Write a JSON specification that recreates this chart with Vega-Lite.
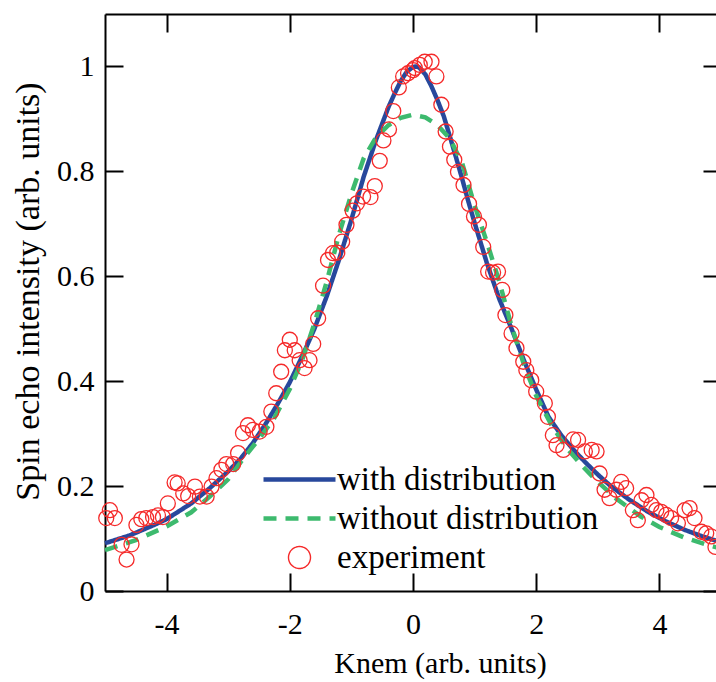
{
  "$schema": "https://vega.github.io/schema/vega-lite/v6.json",
  "width": 616,
  "height": 577,
  "autosize": {"type": "none"},
  "padding": {"left": 105, "top": 14, "right": 0, "bottom": 91},
  "config": {
    "view": {"stroke": null},
    "font": "'Liberation Serif', 'Times New Roman', Times, serif",
    "text": {"font": "'Liberation Serif', 'Times New Roman', Times, serif"},
    "axis": {
      "grid": false,
      "domainColor": "black",
      "domainWidth": 2,
      "tickColor": "black",
      "tickWidth": 2,
      "tickSize": -18,
      "labelFont": "'Liberation Serif', 'Times New Roman', Times, serif",
      "labelFontSize": 30,
      "labelColor": "black",
      "titleFont": "'Liberation Serif', 'Times New Roman', Times, serif",
      "titleFontSize": 30,
      "titleFontWeight": "normal",
      "titleColor": "black"
    },
    "legend": {
      "labelFont": "'Liberation Serif', 'Times New Roman', Times, serif"
    }
  },
  "datasets": {
    "curves": [
      {"series": "with distribution", "k": -5.0, "v": 0.091},
      {"series": "with distribution", "k": -4.6, "v": 0.106},
      {"series": "with distribution", "k": -4.2, "v": 0.126},
      {"series": "with distribution", "k": -4.0, "v": 0.137},
      {"series": "with distribution", "k": -3.6, "v": 0.167},
      {"series": "with distribution", "k": -3.3, "v": 0.196},
      {"series": "with distribution", "k": -3.0, "v": 0.228},
      {"series": "with distribution", "k": -2.8, "v": 0.252},
      {"series": "with distribution", "k": -2.6, "v": 0.282},
      {"series": "with distribution", "k": -2.4, "v": 0.317},
      {"series": "with distribution", "k": -2.2, "v": 0.356},
      {"series": "with distribution", "k": -2.0, "v": 0.398},
      {"series": "with distribution", "k": -1.8, "v": 0.447},
      {"series": "with distribution", "k": -1.6, "v": 0.5},
      {"series": "with distribution", "k": -1.4, "v": 0.562},
      {"series": "with distribution", "k": -1.2, "v": 0.632},
      {"series": "with distribution", "k": -1.0, "v": 0.708},
      {"series": "with distribution", "k": -0.8, "v": 0.79},
      {"series": "with distribution", "k": -0.6, "v": 0.86},
      {"series": "with distribution", "k": -0.4, "v": 0.922},
      {"series": "with distribution", "k": -0.3, "v": 0.948},
      {"series": "with distribution", "k": -0.2, "v": 0.972},
      {"series": "with distribution", "k": -0.1, "v": 0.99},
      {"series": "with distribution", "k": 0.0, "v": 0.999},
      {"series": "with distribution", "k": 0.05, "v": 1.0},
      {"series": "with distribution", "k": 0.1, "v": 0.998},
      {"series": "with distribution", "k": 0.2, "v": 0.985},
      {"series": "with distribution", "k": 0.3, "v": 0.962},
      {"series": "with distribution", "k": 0.4, "v": 0.935},
      {"series": "with distribution", "k": 0.5, "v": 0.905},
      {"series": "with distribution", "k": 0.6, "v": 0.866},
      {"series": "with distribution", "k": 0.7, "v": 0.826},
      {"series": "with distribution", "k": 0.8, "v": 0.785},
      {"series": "with distribution", "k": 0.9, "v": 0.742},
      {"series": "with distribution", "k": 1.0, "v": 0.702},
      {"series": "with distribution", "k": 1.2, "v": 0.625},
      {"series": "with distribution", "k": 1.4, "v": 0.557},
      {"series": "with distribution", "k": 1.6, "v": 0.5},
      {"series": "with distribution", "k": 1.8, "v": 0.44},
      {"series": "with distribution", "k": 2.0, "v": 0.384},
      {"series": "with distribution", "k": 2.2, "v": 0.332},
      {"series": "with distribution", "k": 2.4, "v": 0.298},
      {"series": "with distribution", "k": 2.6, "v": 0.27},
      {"series": "with distribution", "k": 2.8, "v": 0.245},
      {"series": "with distribution", "k": 3.0, "v": 0.222},
      {"series": "with distribution", "k": 3.2, "v": 0.201},
      {"series": "with distribution", "k": 3.5, "v": 0.175},
      {"series": "with distribution", "k": 3.8, "v": 0.152},
      {"series": "with distribution", "k": 4.1, "v": 0.133},
      {"series": "with distribution", "k": 4.4, "v": 0.117},
      {"series": "with distribution", "k": 4.7, "v": 0.104},
      {"series": "with distribution", "k": 5.0, "v": 0.093},
      {"series": "without distribution", "k": -5.0, "v": 0.078},
      {"series": "without distribution", "k": -4.5, "v": 0.097},
      {"series": "without distribution", "k": -4.0, "v": 0.123},
      {"series": "without distribution", "k": -3.6, "v": 0.15},
      {"series": "without distribution", "k": -3.3, "v": 0.18},
      {"series": "without distribution", "k": -3.0, "v": 0.213},
      {"series": "without distribution", "k": -2.75, "v": 0.253},
      {"series": "without distribution", "k": -2.5, "v": 0.29},
      {"series": "without distribution", "k": -2.25, "v": 0.33},
      {"series": "without distribution", "k": -2.0, "v": 0.385},
      {"series": "without distribution", "k": -1.8, "v": 0.44},
      {"series": "without distribution", "k": -1.6, "v": 0.51},
      {"series": "without distribution", "k": -1.4, "v": 0.59},
      {"series": "without distribution", "k": -1.2, "v": 0.68},
      {"series": "without distribution", "k": -1.0, "v": 0.757},
      {"series": "without distribution", "k": -0.8, "v": 0.825},
      {"series": "without distribution", "k": -0.6, "v": 0.865},
      {"series": "without distribution", "k": -0.4, "v": 0.888},
      {"series": "without distribution", "k": -0.2, "v": 0.902},
      {"series": "without distribution", "k": 0.0, "v": 0.908},
      {"series": "without distribution", "k": 0.2, "v": 0.903},
      {"series": "without distribution", "k": 0.4, "v": 0.888},
      {"series": "without distribution", "k": 0.6, "v": 0.862},
      {"series": "without distribution", "k": 0.8, "v": 0.815},
      {"series": "without distribution", "k": 1.0, "v": 0.735},
      {"series": "without distribution", "k": 1.2, "v": 0.665},
      {"series": "without distribution", "k": 1.4, "v": 0.59},
      {"series": "without distribution", "k": 1.6, "v": 0.505},
      {"series": "without distribution", "k": 1.8, "v": 0.432},
      {"series": "without distribution", "k": 2.0, "v": 0.372},
      {"series": "without distribution", "k": 2.25, "v": 0.316},
      {"series": "without distribution", "k": 2.5, "v": 0.272},
      {"series": "without distribution", "k": 2.75, "v": 0.238},
      {"series": "without distribution", "k": 3.0, "v": 0.208},
      {"series": "without distribution", "k": 3.3, "v": 0.176},
      {"series": "without distribution", "k": 3.7, "v": 0.142},
      {"series": "without distribution", "k": 4.0, "v": 0.122},
      {"series": "without distribution", "k": 4.4, "v": 0.102},
      {"series": "without distribution", "k": 4.8, "v": 0.087},
      {"series": "without distribution", "k": 5.0, "v": 0.081}
    ],
    "exp": [
      {"series": "experiment", "k": -4.98, "v": 0.139},
      {"series": "experiment", "k": -4.92, "v": 0.154},
      {"series": "experiment", "k": -4.84, "v": 0.139},
      {"series": "experiment", "k": -4.73, "v": 0.088},
      {"series": "experiment", "k": -4.65, "v": 0.06},
      {"series": "experiment", "k": -4.57, "v": 0.089},
      {"series": "experiment", "k": -4.49, "v": 0.126},
      {"series": "experiment", "k": -4.41, "v": 0.137},
      {"series": "experiment", "k": -4.33, "v": 0.139},
      {"series": "experiment", "k": -4.22, "v": 0.141},
      {"series": "experiment", "k": -4.14, "v": 0.144},
      {"series": "experiment", "k": -4.06, "v": 0.141},
      {"series": "experiment", "k": -3.98, "v": 0.167},
      {"series": "experiment", "k": -3.87, "v": 0.207},
      {"series": "experiment", "k": -3.82, "v": 0.205},
      {"series": "experiment", "k": -3.73, "v": 0.186},
      {"series": "experiment", "k": -3.65, "v": 0.181},
      {"series": "experiment", "k": -3.54, "v": 0.199},
      {"series": "experiment", "k": -3.46, "v": 0.18},
      {"series": "experiment", "k": -3.35, "v": 0.18},
      {"series": "experiment", "k": -3.27, "v": 0.199},
      {"series": "experiment", "k": -3.19, "v": 0.215},
      {"series": "experiment", "k": -3.11, "v": 0.231},
      {"series": "experiment", "k": -3.03, "v": 0.242},
      {"series": "experiment", "k": -2.92, "v": 0.242},
      {"series": "experiment", "k": -2.84, "v": 0.263},
      {"series": "experiment", "k": -2.76, "v": 0.301},
      {"series": "experiment", "k": -2.68, "v": 0.316},
      {"series": "experiment", "k": -2.6, "v": 0.307},
      {"series": "experiment", "k": -2.49, "v": 0.304},
      {"series": "experiment", "k": -2.38, "v": 0.313},
      {"series": "experiment", "k": -2.3, "v": 0.342},
      {"series": "experiment", "k": -2.22, "v": 0.377},
      {"series": "experiment", "k": -2.14, "v": 0.418},
      {"series": "experiment", "k": -2.08, "v": 0.459},
      {"series": "experiment", "k": -2.0, "v": 0.479},
      {"series": "experiment", "k": -1.92, "v": 0.459},
      {"series": "experiment", "k": -1.84, "v": 0.44},
      {"series": "experiment", "k": -1.76, "v": 0.425},
      {"series": "experiment", "k": -1.68, "v": 0.44},
      {"series": "experiment", "k": -1.62, "v": 0.471},
      {"series": "experiment", "k": -1.54, "v": 0.52},
      {"series": "experiment", "k": -1.46, "v": 0.582},
      {"series": "experiment", "k": -1.38, "v": 0.631},
      {"series": "experiment", "k": -1.3, "v": 0.644},
      {"series": "experiment", "k": -1.23, "v": 0.645},
      {"series": "experiment", "k": -1.15, "v": 0.666},
      {"series": "experiment", "k": -1.08, "v": 0.698},
      {"series": "experiment", "k": -0.98, "v": 0.725},
      {"series": "experiment", "k": -0.91, "v": 0.739},
      {"series": "experiment", "k": -0.81, "v": 0.752},
      {"series": "experiment", "k": -0.69, "v": 0.751},
      {"series": "experiment", "k": -0.62, "v": 0.772},
      {"series": "experiment", "k": -0.54, "v": 0.82},
      {"series": "experiment", "k": -0.48, "v": 0.859},
      {"series": "experiment", "k": -0.39, "v": 0.88},
      {"series": "experiment", "k": -0.32, "v": 0.915},
      {"series": "experiment", "k": -0.23, "v": 0.96},
      {"series": "experiment", "k": -0.16, "v": 0.981},
      {"series": "experiment", "k": -0.08, "v": 0.987},
      {"series": "experiment", "k": 0.0, "v": 0.993},
      {"series": "experiment", "k": 0.03, "v": 0.997},
      {"series": "experiment", "k": 0.11, "v": 1.003},
      {"series": "experiment", "k": 0.19, "v": 1.009},
      {"series": "experiment", "k": 0.3, "v": 1.009},
      {"series": "experiment", "k": 0.38, "v": 0.981},
      {"series": "experiment", "k": 0.46, "v": 0.927},
      {"series": "experiment", "k": 0.53, "v": 0.876},
      {"series": "experiment", "k": 0.6, "v": 0.847},
      {"series": "experiment", "k": 0.67, "v": 0.822},
      {"series": "experiment", "k": 0.73, "v": 0.799},
      {"series": "experiment", "k": 0.82, "v": 0.774},
      {"series": "experiment", "k": 0.91, "v": 0.738},
      {"series": "experiment", "k": 0.99, "v": 0.714},
      {"series": "experiment", "k": 1.07, "v": 0.698},
      {"series": "experiment", "k": 1.14, "v": 0.656},
      {"series": "experiment", "k": 1.22, "v": 0.609},
      {"series": "experiment", "k": 1.3, "v": 0.607},
      {"series": "experiment", "k": 1.38, "v": 0.609},
      {"series": "experiment", "k": 1.45, "v": 0.574},
      {"series": "experiment", "k": 1.5, "v": 0.526},
      {"series": "experiment", "k": 1.6, "v": 0.491},
      {"series": "experiment", "k": 1.68, "v": 0.463},
      {"series": "experiment", "k": 1.79, "v": 0.437},
      {"series": "experiment", "k": 1.84, "v": 0.421},
      {"series": "experiment", "k": 1.92, "v": 0.402},
      {"series": "experiment", "k": 2.0, "v": 0.38},
      {"series": "experiment", "k": 2.14, "v": 0.358},
      {"series": "experiment", "k": 2.19, "v": 0.332},
      {"series": "experiment", "k": 2.27, "v": 0.297},
      {"series": "experiment", "k": 2.33, "v": 0.278},
      {"series": "experiment", "k": 2.44, "v": 0.269},
      {"series": "experiment", "k": 2.6, "v": 0.289},
      {"series": "experiment", "k": 2.68, "v": 0.288},
      {"series": "experiment", "k": 2.79, "v": 0.266},
      {"series": "experiment", "k": 2.9, "v": 0.269},
      {"series": "experiment", "k": 2.98, "v": 0.266},
      {"series": "experiment", "k": 3.03, "v": 0.224},
      {"series": "experiment", "k": 3.11, "v": 0.193},
      {"series": "experiment", "k": 3.19, "v": 0.177},
      {"series": "experiment", "k": 3.3, "v": 0.193},
      {"series": "experiment", "k": 3.38, "v": 0.208},
      {"series": "experiment", "k": 3.46, "v": 0.196},
      {"series": "experiment", "k": 3.57, "v": 0.154},
      {"series": "experiment", "k": 3.65, "v": 0.135},
      {"series": "experiment", "k": 3.71, "v": 0.173},
      {"series": "experiment", "k": 3.79, "v": 0.183},
      {"series": "experiment", "k": 3.87, "v": 0.164},
      {"series": "experiment", "k": 3.95, "v": 0.154},
      {"series": "experiment", "k": 4.03, "v": 0.151},
      {"series": "experiment", "k": 4.11, "v": 0.145},
      {"series": "experiment", "k": 4.19, "v": 0.139},
      {"series": "experiment", "k": 4.3, "v": 0.129},
      {"series": "experiment", "k": 4.41, "v": 0.154},
      {"series": "experiment", "k": 4.49, "v": 0.158},
      {"series": "experiment", "k": 4.57, "v": 0.139},
      {"series": "experiment", "k": 4.68, "v": 0.113},
      {"series": "experiment", "k": 4.76, "v": 0.11},
      {"series": "experiment", "k": 4.84, "v": 0.104},
      {"series": "experiment", "k": 4.91, "v": 0.084}
    ]
  },
  "layer": [
    {
      "data": {"name": "curves"},
      "mark": {"type": "line", "strokeWidth": 4.5},
      "encoding": {
        "x": {
          "field": "k", "type": "quantitative",
          "scale": {"domain": [-5, 5], "nice": false, "zero": false},
          "axis": {"orient": "bottom", "values": [-4, -2, 0, 2, 4], "labelExpr": "'' + datum.value", "labelPadding": 36, "title": "Knem (arb. units)", "titleX": 335, "titleY": 81, "titleBaseline": "alphabetic"}
        },
        "y": {
          "field": "v", "type": "quantitative",
          "scale": {"domain": [0, 1.1], "nice": false, "zero": false},
          "axis": {"orient": "left", "values": [0, 0.2, 0.4, 0.6, 0.8, 1], "labelExpr": "'' + datum.value", "labelPadding": 29, "title": "Spin echo intensity (arb. units)", "titleFontSize": 34, "titleX": -67, "titleY": 277, "titleBaseline": "alphabetic", "titleAngle": -90}
        },
        "color": {
          "field": "series", "type": "nominal",
          "scale": {"domain": ["with distribution", "without distribution", "experiment"], "range": ["#28489c", "#3dba6e", "#f52a2a"]},
          "legend": {
            "orient": "none", "legendX": 178, "legendY": 449, "title": null, "padding": 0,
            "labelFontSize": 33, "labelColor": "black", "labelOffset": 21, "labelLimit": 500,
            "symbolType": "stroke", "symbolSize": 5184, "symbolStrokeWidth": 4.5, "rowPadding": 5,
            "encode": {
              "symbols": {
                "update": {
                  "shape": {"signal": "datum.value === 'experiment' ? 'circle' : 'stroke'"},
                  "size": {"signal": "datum.value === 'experiment' ? 484 : 5184"},
                  "strokeDash": {"signal": "datum.value === 'without distribution' ? [13, 9] : [1, 0]"},
                  "strokeWidth": {"signal": "datum.value === 'experiment' ? 1.4 : 4.5"},
                  "fill": {"value": "transparent"}
                }
              }
            }
          }
        },
        "strokeDash": {
          "field": "series", "type": "nominal",
          "scale": {"domain": ["with distribution", "without distribution"], "range": [[1, 0], [13, 9]]},
          "legend": null
        }
      }
    },
    {
      "data": {"name": "exp"},
      "mark": {"type": "point", "filled": false, "size": 225, "strokeWidth": 1.3, "opacity": 1},
      "encoding": {
        "x": {
          "field": "k", "type": "quantitative",
          "axis": {"orient": "top", "values": [-4, -2, 0, 2, 4], "labels": false, "title": null}
        },
        "y": {
          "field": "v", "type": "quantitative",
          "axis": {"orient": "right", "values": [0, 0.2, 0.4, 0.6, 0.8, 1], "labels": false, "title": null}
        },
        "color": {"field": "series", "type": "nominal"}
      }
    }
  ]
}
